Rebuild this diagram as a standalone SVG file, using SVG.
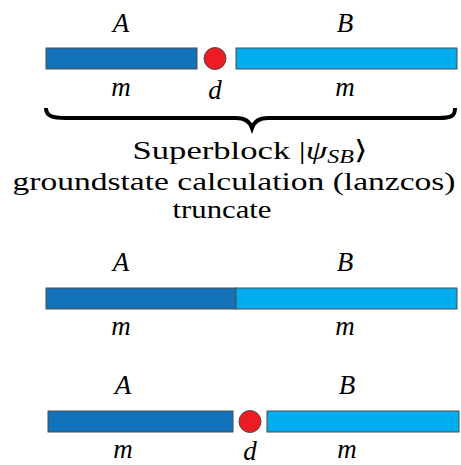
<svg xmlns="http://www.w3.org/2000/svg" width="461" height="465" viewBox="0 0 461 465">
<style>
.a{fill:#1273ba;stroke:#4d4d4d;stroke-width:1}
.b{fill:#00aeef;stroke:#4d4d4d;stroke-width:1}
.d{fill:#ed1c24;stroke:#4d4d4d;stroke-width:1}
text{font-family:'Liberation Serif','DejaVu Serif',serif;fill:#000;text-anchor:middle}
.m{font-style:italic;font-size:27px}
.t{font-size:26px}
</style>
<rect width="461" height="465" fill="#fff"/>
<g id="row1">
<rect class="a" x="46" y="48" width="151" height="21"/>
<circle class="d" cx="215" cy="58.5" r="11"/>
<rect class="b" x="236" y="48" width="221" height="21"/>
<text class="m" x="121" y="32">A</text>
<text class="m" x="345" y="32">B</text>
<text class="m" x="121" y="96">m</text>
<text class="m" x="215" y="99">d</text>
<text class="m" x="345" y="96">m</text>
</g>
<g id="brace">
<path d="M46,108 C46,116 52,118 66,118 L236,118 C246,118 250,122 252,128 C254,122 258,118 268,118 L438,118 C452,118 455,116 455,108" fill="none" stroke="#000" stroke-width="4"/>
</g>
<g id="text">
<text class="t" x="250" y="159" textLength="235" lengthAdjust="spacingAndGlyphs">Superblock |<tspan font-style="italic">ψ</tspan><tspan font-style="italic" font-size="18" dy="4">SB</tspan><tspan dy="-4">⟩</tspan></text>
<text class="t" x="234" y="190" textLength="443" lengthAdjust="spacingAndGlyphs">groundstate calculation (lanzcos)</text>
<text class="t" x="222" y="218" textLength="99" lengthAdjust="spacingAndGlyphs">truncate</text>
</g>
<g id="row2">
<rect class="a" x="46" y="288" width="190" height="21"/>
<rect class="b" x="236" y="288" width="221" height="21"/>
<text class="m" x="121" y="271">A</text>
<text class="m" x="345" y="271">B</text>
<text class="m" x="121" y="335">m</text>
<text class="m" x="345" y="335">m</text>
</g>
<g id="row3">
<rect class="a" x="48" y="411" width="185" height="21"/>
<circle class="d" cx="250" cy="421.5" r="11"/>
<rect class="b" x="267" y="411" width="192" height="21"/>
<text class="m" x="123" y="394">A</text>
<text class="m" x="347" y="394">B</text>
<text class="m" x="123" y="458">m</text>
<text class="m" x="250" y="460">d</text>
<text class="m" x="347" y="458">m</text>
</g>
</svg>
